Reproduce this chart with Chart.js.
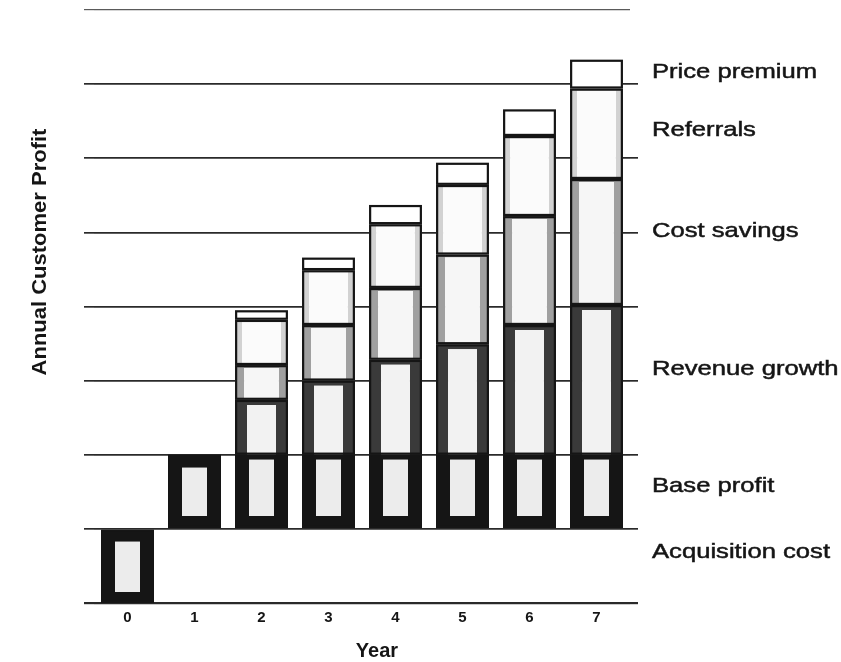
<!DOCTYPE html>
<html>
<head>
<meta charset="utf-8">
<script src="https://cdn.jsdelivr.net/npm/chart.js@4/dist/chart.umd.min.js"></script>
<style>
  html, body { margin: 0; padding: 0; background: #ffffff; }
  #wrap { position: relative; width: 841px; height: 662px; }
</style>
</head>
<body>
<div id="wrap"><canvas id="chart"></canvas></div>
<script>
// Years since the customer was acquired
const years = ['0', '1', '2', '3', '4', '5', '6', '7'];

// Annual customer profit by source (one unit = one gridline step)
const acquisitionCost = [-1, null, null, null, null, null, null, null];
const baseProfit      = [null, 1, 1, 1, 1, 1, 1, 1];
const revenueGrowth   = [null, null, 0.74, 1.00, 1.28, 1.49, 1.75, 2.02];
const costSavings     = [null, null, 0.47, 0.75, 0.97, 1.21, 1.47, 1.70];
const referrals       = [null, null, 0.61, 0.74, 0.86, 0.94, 1.08, 1.22];
const pricePremium    = [null, null, 0.13, 0.17, 0.26, 0.30, 0.36, 0.39];

const seriesNames = ['Acquisition cost', 'Base profit', 'Revenue growth',
                     'Cost savings', 'Referrals', 'Price premium'];
const yAxisTitle = 'Annual Customer Profit';
const xAxisTitle = 'Year';

// Level (in axis units) at which each series name is written on the right
const nameLevels = [-0.31, 0.58, 2.15, 4.02, 5.38, 6.16];

const INK = '#151515';
const FONT = '"Liberation Sans", Arial, sans-serif';

// Thin black outline round every stacked segment
const segmentOutline = {
  id: 'segmentOutline',
  afterDatasetsDraw(chart) {
    const ctx = chart.ctx;
    ctx.save();
    ctx.strokeStyle = INK;
    ctx.lineWidth = 2.2;
    chart.data.datasets.forEach((ds, di) => {
      const meta = chart.getDatasetMeta(di);
      meta.data.forEach((el, i) => {
        if (ds.data[i] === null) return;
        const p = el.getProps(['x', 'y', 'base', 'width'], true);
        const left = p.x - p.width / 2;
        const top = Math.min(p.y, p.base);
        const h = Math.abs(p.base - p.y);
        ctx.strokeRect(left + 1.1, top + 1.1, p.width - 2.2, h - 2.2);
      });
    });
    ctx.restore();
  }
};

// Axis titles and the series names beside the last bar
const chartText = {
  id: 'chartText',
  afterDraw(chart) {
    const ctx = chart.ctx;
    const y = chart.scales.y;
    ctx.save();
    ctx.fillStyle = INK;
    ctx.strokeStyle = INK;
    ctx.textBaseline = 'middle';

    // series names, slightly heavier than plain regular weight
    ctx.font = '21px ' + FONT;
    ctx.textAlign = 'left';
    ctx.lineWidth = 0.5;
    seriesNames.forEach((name, i) => {
      const py = y.getPixelForValue(nameLevels[i]);
      ctx.save();
      ctx.translate(652, py);
      ctx.scale(1.22, 1);
      ctx.fillText(name, 0, 0);
      ctx.strokeText(name, 0, 0);
      ctx.restore();
    });

    // vertical axis title
    ctx.save();
    ctx.translate(40, 252);
    ctx.rotate(-Math.PI / 2);
    ctx.scale(1.1, 1);
    ctx.font = 'bold 20px ' + FONT;
    ctx.textAlign = 'center';
    ctx.fillText(yAxisTitle, 0, 0);
    ctx.restore();

    // horizontal axis title
    ctx.font = 'bold 20px ' + FONT;
    ctx.textAlign = 'center';
    ctx.fillText(xAxisTitle, 377, 651);
    ctx.restore();
  }
};

const segment = (label, data, fill, frame, width) => ({
  label, data,
  backgroundColor: fill,
  borderColor: frame,
  borderWidth: width,
  borderSkipped: false,
  stack: 'profit'
});

new Chart(document.getElementById('chart'), {
  type: 'bar',
  data: {
    labels: years,
    datasets: [
      segment(seriesNames[0], acquisitionCost, '#ececec', INK,
              { left: 14, right: 14, top: 12, bottom: 11 }),
      segment(seriesNames[1], baseProfit, '#ececec', INK,
              ctx => ({ left: 14, right: 14, top: ctx.dataIndex === 1 ? 13 : 5, bottom: 12 })),
      segment(seriesNames[2], revenueGrowth, '#f2f2f2', '#3a3a3a',
              { left: 12, right: 12, top: 5, bottom: 0 }),
      segment(seriesNames[3], costSavings, '#f6f6f6', '#a0a0a0',
              { left: 9, right: 9, top: 3, bottom: 1 }),
      segment(seriesNames[4], referrals, '#fbfbfb', '#d2d2d2',
              { left: 7, right: 7, top: 2, bottom: 1 }),
      segment(seriesNames[5], pricePremium, '#ffffff', INK, 0)
    ]
  },
  options: {
    responsive: true,
    maintainAspectRatio: false,
    animation: false,
    devicePixelRatio: 1,
    layout: { padding: { top: 10, left: 0, right: 0, bottom: 0 } },
    datasets: { bar: { barPercentage: 0.79, categoryPercentage: 1 } },
    plugins: { legend: { display: false }, tooltip: { enabled: false } },
    scales: {
      x: {
        stacked: true,
        grid: { display: false, drawTicks: false },
        border: { display: false },
        ticks: {
          color: INK,
          padding: 6,
          font: { family: FONT, size: 15, weight: 'bold' }
        },
        afterFit: s => { s.height = 59; }
      },
      y: {
        stacked: true,
        min: -1, max: 7,
        ticks: { display: false, stepSize: 1 },
        border: { display: false },
        grid: {
          color: c => c.tick && c.tick.value === 7 ? '#5a5a5a' : '#2a2a2a',
          lineWidth: c => c.tick && c.tick.value === -1 ? 2.2 : (c.tick && c.tick.value === 7 ? 1.2 : 1.7),
          drawTicks: true,
          tickLength: 10
        },
        afterFit: s => { s.width = 94; }
      },
      y2: {
        position: 'right',
        min: -1, max: 7,
        ticks: { display: false, stepSize: 1 },
        border: { display: false },
        grid: {
          drawOnChartArea: false,
          drawTicks: true,
          tickLength: 8,
          color: c => c.tick && c.tick.value === 7 ? 'rgba(0,0,0,0)' : '#2a2a2a',
          lineWidth: c => c.tick && c.tick.value === -1 ? 2.2 : 1.7
        },
        afterFit: s => { s.width = 211; }
      }
    }
  },
  plugins: [segmentOutline, chartText]
});
</script>
</body>
</html>
